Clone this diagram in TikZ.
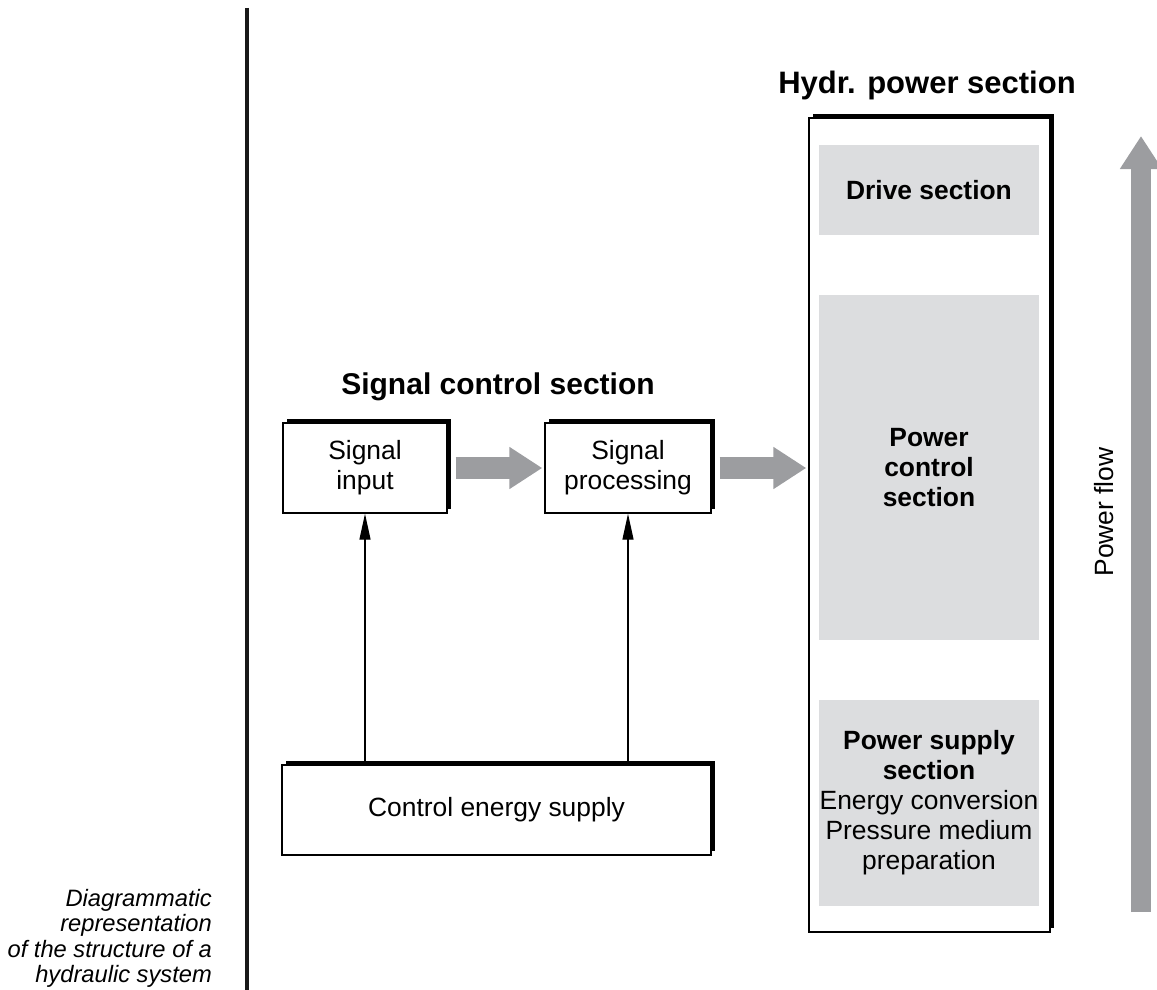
\documentclass[tikz,border=0pt]{standalone}
\usepackage{fontspec}
\setmainfont{Liberation Sans}
\usetikzlibrary{arrows.meta,shadows}
\definecolor{boxgray}{HTML}{DCDDDF}
\definecolor{arrgray}{HTML}{9C9DA0}
\tikzset{
  txt/.style={font=\fontsize{26.4}{30}\selectfont, align=center},
  shbox/.style={txt, draw=black, line width=1.4pt, fill=white, inner sep=0pt,
    general shadow={fill=black, shadow xshift=4pt, shadow yshift=4pt}},
  graybox/.style={txt, fill=boxgray, draw=none, inner sep=0pt},
  title/.style={font=\bfseries\fontsize{31}{35}\selectfont, anchor=base},
  bigarrow/.style={draw=arrgray, line width=22pt, -{Triangle[width=40pt,length=33pt,fill=arrgray]}},
  thinarrow/.style={draw=black, line width=1.3pt, -{Triangle[width=11pt,length=26pt]}}
}
\begin{document}
\begin{tikzpicture}[x=1pt,y=-1pt]
\useasboundingbox (0,0) rectangle (1157,990);
% vertical separator
\coordinate (vtop) at (247,8);
\coordinate (vbot) at (247,990);
\draw[line width=4pt, draw={black!90}] (vtop) -- (vbot);

% caption
\node[font=\itshape\fontsize{23.7}{25.5}\selectfont, align=right, anchor=north east, inner sep=0pt]
  (cap) at (212,889) {Diagrammatic\\representation\\of the structure of a\\hydraulic system};

% hydraulic power section
\node[title] (htitle) at (927,93) {Hydr. power section};
\node[shbox, minimum width=241pt, minimum height=814pt] (hyd) at (929.5,525) {};
\node[graybox, minimum width=220pt, minimum height=90pt] (drive) at (929,190) {\bfseries Drive section};
\node[graybox, minimum width=220pt, minimum height=345pt] (pcs) at (929,467.5) {\bfseries Power\\\bfseries control\\\bfseries section};
\node[graybox, minimum width=220pt, minimum height=206pt] (pss) at (929,803) {\bfseries Power supply\\\bfseries section\\Energy conversion\\Pressure medium\\preparation};

% signal control section
\node[title, font=\bfseries\fontsize{30}{34}\selectfont] (stitle) at (498,394) {Signal control section};
\node[shbox, minimum width=164pt, minimum height=90pt] (sin) at (365,468) {Signal\\input};
\node[shbox, minimum width=166pt, minimum height=90pt] (sp) at (628,468) {Signal\\processing};
\node[shbox, minimum width=429pt, minimum height=90pt] (ces) at (496.5,810) {Control energy supply};

% gray flow arrows
\draw[bigarrow] ([xshift=8pt]sin.east) -- ([xshift=-2pt]sp.west);
\draw[bigarrow] ([xshift=8pt]sp.east) -- ([xshift=-2pt]hyd.west |- sp.east);

% control energy arrows
\draw[thinarrow] (sin.south |- ces.north) -- (sin.south);
\draw[thinarrow] (sp.south |- ces.north) -- (sp.south);

% power flow
\coordinate (pfbot) at (1141,912);
\coordinate (pftop) at (1141,136);
\draw[bigarrow, line width=20pt] (pfbot) -- (pftop);
\node[txt, rotate=90] (pf) at (1104,512) {Power flow};
\end{tikzpicture}
\end{document}
